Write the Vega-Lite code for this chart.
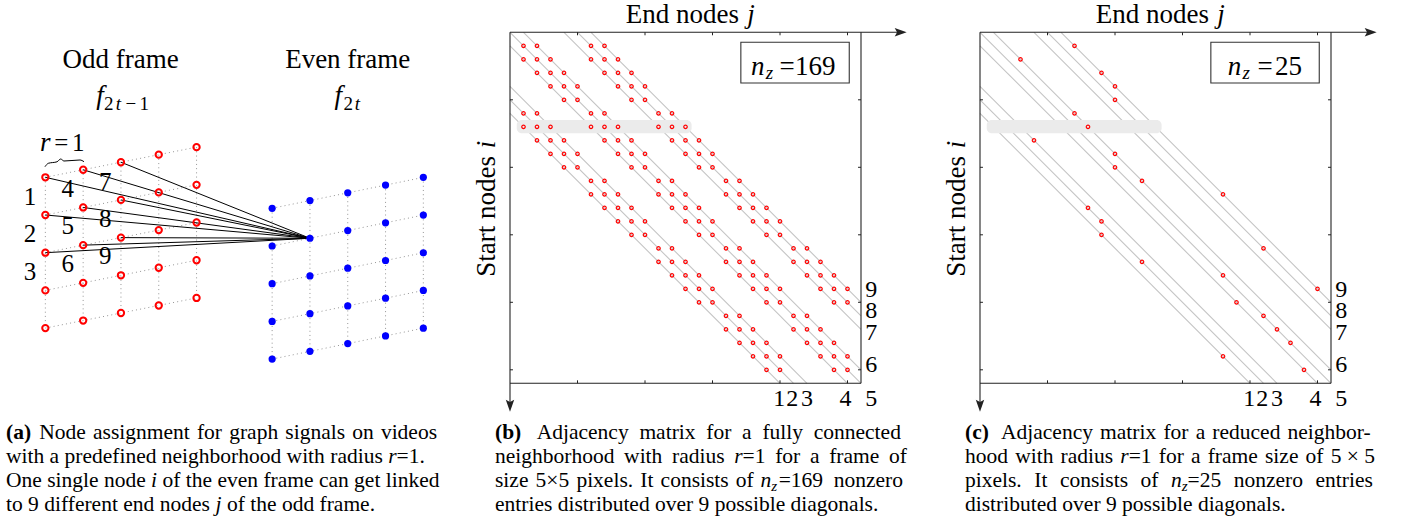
{
"$schema": "https://vega.github.io/schema/vega-lite/v6.json",
"padding": 0,
"spacing": 0,
"bounds": "flush",
"background": "white",
"config": {"view": {"stroke": null}, "concat": {"spacing": 0}, "text": {"font": "Liberation Serif", "color": "#000"}},
"datasets": {
"aGrid": [
{"u":1,"v":1,"u2":5,"v2":0.2},{"u":1,"v":2,"u2":5,"v2":1.2},{"u":1,"v":3,"u2":5,"v2":2.2},{"u":1,"v":4,"u2":5,"v2":3.2},{"u":1,"v":5,"u2":5,"v2":4.2},
{"u":1,"v":1,"u2":1,"v2":5},{"u":2,"v":0.8,"u2":2,"v2":4.8},{"u":3,"v":0.6,"u2":3,"v2":4.6},{"u":4,"v":0.4,"u2":4,"v2":4.4},{"u":5,"v":0.2,"u2":5,"v2":4.2},
{"u":7,"v":1.822,"u2":11,"v2":1.002},{"u":7,"v":2.822,"u2":11,"v2":2.002},{"u":7,"v":3.822,"u2":11,"v2":3.002},{"u":7,"v":4.822,"u2":11,"v2":4.002},{"u":7,"v":5.822,"u2":11,"v2":5.002},
{"u":7,"v":1.822,"u2":7,"v2":5.822},{"u":8,"v":1.617,"u2":8,"v2":5.617},{"u":9,"v":1.412,"u2":9,"v2":5.412},{"u":10,"v":1.207,"u2":10,"v2":5.207},{"u":11,"v":1.002,"u2":11,"v2":5.002}
],
"aLinks": [
{"u":8,"v":2.617,"u2":1,"v2":1},{"u":8,"v":2.617,"u2":1,"v2":2},{"u":8,"v":2.617,"u2":1,"v2":3},
{"u":8,"v":2.617,"u2":2,"v2":0.8},{"u":8,"v":2.617,"u2":2,"v2":1.8},{"u":8,"v":2.617,"u2":2,"v2":2.8},
{"u":8,"v":2.617,"u2":3,"v2":0.6},{"u":8,"v":2.617,"u2":3,"v2":1.6},{"u":8,"v":2.617,"u2":3,"v2":2.6}
],
"aRed": [
{"u":1,"v":1},{"u":1,"v":2},{"u":1,"v":3},{"u":1,"v":4},{"u":1,"v":5},
{"u":2,"v":0.8},{"u":2,"v":1.8},{"u":2,"v":2.8},{"u":2,"v":3.8},{"u":2,"v":4.8},
{"u":3,"v":0.6},{"u":3,"v":1.6},{"u":3,"v":2.6},{"u":3,"v":3.6},{"u":3,"v":4.6},
{"u":4,"v":0.4},{"u":4,"v":1.4},{"u":4,"v":2.4},{"u":4,"v":3.4},{"u":4,"v":4.4},
{"u":5,"v":0.2},{"u":5,"v":1.2},{"u":5,"v":2.2},{"u":5,"v":3.2},{"u":5,"v":4.2}
],
"aBlue": [
{"u":7,"v":1.822},{"u":7,"v":2.822},{"u":7,"v":3.822},{"u":7,"v":4.822},{"u":7,"v":5.822},
{"u":8,"v":1.617},{"u":8,"v":2.617},{"u":8,"v":3.617},{"u":8,"v":4.617},{"u":8,"v":5.617},
{"u":9,"v":1.412},{"u":9,"v":2.412},{"u":9,"v":3.412},{"u":9,"v":4.412},{"u":9,"v":5.412},
{"u":10,"v":1.207},{"u":10,"v":2.207},{"u":10,"v":3.207},{"u":10,"v":4.207},{"u":10,"v":5.207},
{"u":11,"v":1.002},{"u":11,"v":2.002},{"u":11,"v":3.002},{"u":11,"v":4.002},{"u":11,"v":5.002}
],
"aBrace": [
{"u":0.99,"v":0.719},{"u":1.078,"v":0.629},{"u":1.308,"v":0.589},{"u":1.406,"v":0.515},{"u":1.493,"v":0.568},{"u":1.916,"v":0.541},{"u":2.022,"v":0.586}
],
"mDiag": [
{"j":0,"i":6,"j2":20,"i2":26},{"j":0,"i":5,"j2":21,"i2":26},{"j":0,"i":4,"j2":22,"i2":26},{"j":0,"i":1,"j2":25,"i2":26},{"j":0,"i":0,"j2":26,"i2":26},
{"j":1,"i":0,"j2":26,"i2":25},{"j":4,"i":0,"j2":26,"i2":22},{"j":5,"i":0,"j2":26,"i2":21},{"j":6,"i":0,"j2":26,"i2":20}
],
"mBand": [{"j":0.5,"i":6.5,"j2":13.45,"i2":7.48}],
"mTicks": [
{"j":5,"i":0,"j2":5,"i2":0.22},{"j":10,"i":0,"j2":10,"i2":0.22},{"j":15,"i":0,"j2":15,"i2":0.22},{"j":20,"i":0,"j2":20,"i2":0.22},{"j":25,"i":0,"j2":25,"i2":0.22},
{"j":5,"i":26,"j2":5,"i2":25.78},{"j":10,"i":26,"j2":10,"i2":25.78},{"j":15,"i":26,"j2":15,"i2":25.78},{"j":20,"i":26,"j2":20,"i2":25.78},{"j":25,"i":26,"j2":25,"i2":25.78},
{"j":0,"i":5,"j2":0.22,"i2":5},{"j":0,"i":10,"j2":0.22,"i2":10},{"j":0,"i":15,"j2":0.22,"i2":15},{"j":0,"i":20,"j2":0.22,"i2":20},{"j":0,"i":25,"j2":0.22,"i2":25},
{"j":26,"i":5,"j2":25.78,"i2":5},{"j":26,"i":10,"j2":25.78,"i2":10},{"j":26,"i":15,"j2":25.78,"i2":15},{"j":26,"i":20,"j2":25.78,"i2":20},{"j":26,"i":25,"j2":25.78,"i2":25}
],
"mFrame": [
{"j":0,"i":0,"j2":28.95,"i2":0},{"j":0,"i":0,"j2":0,"i2":27.7},{"j":26,"i":0,"j2":26,"i2":26},{"j":0,"i":26,"j2":26,"i2":26}
],
"mBox": [{"j":17.1,"i":0.74,"j2":25.13,"i2":3.76}],
"mLab": [
{"t":"1","j":19.95,"i":27.68},{"t":"2","j":20.9,"i":27.68},{"t":"3","j":22.0,"i":27.68},{"t":"4","j":24.85,"i":27.68},{"t":"5","j":26.75,"i":27.68},
{"t":"6","j":26.75,"i":25.14},{"t":"7","j":26.75,"i":22.8},{"t":"8","j":26.75,"i":21.19},{"t":"9","j":26.75,"i":19.58}
],
"nzFull": [
{"i":1,"j":1},{"i":1,"j":2},{"i":1,"j":6},{"i":1,"j":7},
{"i":2,"j":1},{"i":2,"j":2},{"i":2,"j":3},{"i":2,"j":6},{"i":2,"j":7},{"i":2,"j":8},
{"i":3,"j":2},{"i":3,"j":3},{"i":3,"j":4},{"i":3,"j":7},{"i":3,"j":8},{"i":3,"j":9},
{"i":4,"j":3},{"i":4,"j":4},{"i":4,"j":5},{"i":4,"j":8},{"i":4,"j":9},{"i":4,"j":10},
{"i":5,"j":4},{"i":5,"j":5},{"i":5,"j":9},{"i":5,"j":10},
{"i":6,"j":1},{"i":6,"j":2},{"i":6,"j":6},{"i":6,"j":7},{"i":6,"j":11},{"i":6,"j":12},
{"i":7,"j":1},{"i":7,"j":2},{"i":7,"j":3},{"i":7,"j":6},{"i":7,"j":7},{"i":7,"j":8},{"i":7,"j":11},{"i":7,"j":12},{"i":7,"j":13},
{"i":8,"j":2},{"i":8,"j":3},{"i":8,"j":4},{"i":8,"j":7},{"i":8,"j":8},{"i":8,"j":9},{"i":8,"j":12},{"i":8,"j":13},{"i":8,"j":14},
{"i":9,"j":3},{"i":9,"j":4},{"i":9,"j":5},{"i":9,"j":8},{"i":9,"j":9},{"i":9,"j":10},{"i":9,"j":13},{"i":9,"j":14},{"i":9,"j":15},
{"i":10,"j":4},{"i":10,"j":5},{"i":10,"j":9},{"i":10,"j":10},{"i":10,"j":14},{"i":10,"j":15},
{"i":11,"j":6},{"i":11,"j":7},{"i":11,"j":11},{"i":11,"j":12},{"i":11,"j":16},{"i":11,"j":17},
{"i":12,"j":6},{"i":12,"j":7},{"i":12,"j":8},{"i":12,"j":11},{"i":12,"j":12},{"i":12,"j":13},{"i":12,"j":16},{"i":12,"j":17},{"i":12,"j":18},
{"i":13,"j":7},{"i":13,"j":8},{"i":13,"j":9},{"i":13,"j":12},{"i":13,"j":13},{"i":13,"j":14},{"i":13,"j":17},{"i":13,"j":18},{"i":13,"j":19},
{"i":14,"j":8},{"i":14,"j":9},{"i":14,"j":10},{"i":14,"j":13},{"i":14,"j":14},{"i":14,"j":15},{"i":14,"j":18},{"i":14,"j":19},{"i":14,"j":20},
{"i":15,"j":9},{"i":15,"j":10},{"i":15,"j":14},{"i":15,"j":15},{"i":15,"j":19},{"i":15,"j":20},
{"i":16,"j":11},{"i":16,"j":12},{"i":16,"j":16},{"i":16,"j":17},{"i":16,"j":21},{"i":16,"j":22},
{"i":17,"j":11},{"i":17,"j":12},{"i":17,"j":13},{"i":17,"j":16},{"i":17,"j":17},{"i":17,"j":18},{"i":17,"j":21},{"i":17,"j":22},{"i":17,"j":23},
{"i":18,"j":12},{"i":18,"j":13},{"i":18,"j":14},{"i":18,"j":17},{"i":18,"j":18},{"i":18,"j":19},{"i":18,"j":22},{"i":18,"j":23},{"i":18,"j":24},
{"i":19,"j":13},{"i":19,"j":14},{"i":19,"j":15},{"i":19,"j":18},{"i":19,"j":19},{"i":19,"j":20},{"i":19,"j":23},{"i":19,"j":24},{"i":19,"j":25},
{"i":20,"j":14},{"i":20,"j":15},{"i":20,"j":19},{"i":20,"j":20},{"i":20,"j":24},{"i":20,"j":25},
{"i":21,"j":16},{"i":21,"j":17},{"i":21,"j":21},{"i":21,"j":22},
{"i":22,"j":16},{"i":22,"j":17},{"i":22,"j":18},{"i":22,"j":21},{"i":22,"j":22},{"i":22,"j":23},
{"i":23,"j":17},{"i":23,"j":18},{"i":23,"j":19},{"i":23,"j":22},{"i":23,"j":23},{"i":23,"j":24},
{"i":24,"j":18},{"i":24,"j":19},{"i":24,"j":20},{"i":24,"j":23},{"i":24,"j":24},{"i":24,"j":25},
{"i":25,"j":19},{"i":25,"j":20},{"i":25,"j":24},{"i":25,"j":25}
],
"nzRed": [
{"i":1,"j":7},{"i":2,"j":3},{"i":3,"j":9},{"i":4,"j":10},{"i":5,"j":10},{"i":6,"j":7},{"i":7,"j":8},{"i":8,"j":4},{"i":9,"j":10},{"i":10,"j":10},
{"i":11,"j":12},{"i":12,"j":18},{"i":13,"j":8},{"i":14,"j":9},{"i":15,"j":9},{"i":16,"j":21},{"i":17,"j":12},{"i":18,"j":18},{"i":19,"j":25},{"i":20,"j":19},
{"i":21,"j":21},{"i":22,"j":22},{"i":23,"j":23},{"i":24,"j":18},{"i":25,"j":24}
]
},
"hconcat": [
{
"width": 460, "height": 519,
"encoding": {
"x": {"field": "u", "type": "quantitative", "scale": {"domain": [-0.2, 11.97], "nice": false, "zero": false}, "axis": null},
"y": {"field": "v", "type": "quantitative", "scale": {"domain": [-3.703, 10.064], "reverse": true, "nice": false, "zero": false}, "axis": null}
},
"layer": [
{"data": {"name": "aGrid"}, "mark": {"type": "rule", "stroke": "#8a8a8a", "strokeWidth": 0.9, "strokeDash": [1, 3.2]}, "encoding": {"x2": {"field": "u2"}, "y2": {"field": "v2"}}},
{"data": {"name": "aLinks"}, "mark": {"type": "rule", "stroke": "#000", "strokeWidth": 1}, "encoding": {"x2": {"field": "u2"}, "y2": {"field": "v2"}}},
{"data": {"name": "aRed"}, "mark": {"type": "point", "shape": "circle", "filled": false, "stroke": "#ff0000", "strokeWidth": 2, "size": 40, "opacity": 1}},
{"data": {"name": "aBlue"}, "mark": {"type": "point", "shape": "circle", "filled": true, "fill": "#0000ff", "strokeWidth": 0, "size": 52, "opacity": 1}},
{"data": {"name": "aBrace"}, "mark": {"type": "line", "stroke": "#000", "strokeWidth": 1, "interpolate": "monotone"}, "encoding": {}},
{"data": {"values": [{"t": "Odd frame", "u": 2.993, "v": -1.891}, {"t": "Even frame", "u": 9.0, "v": -1.891}]}, "mark": {"type": "text", "fontSize": 27, "align": "center", "baseline": "alphabetic"}, "encoding": {"text": {"field": "t"}}},
{"data": {"values": [{"t": "f", "u": 2.446, "v": -0.944}, {"t": "f", "u": 8.75, "v": -0.944}, {"t": "r", "u": 1.0, "v": 0.294}]}, "mark": {"type": "text", "fontSize": 27, "fontStyle": "italic", "align": "center", "baseline": "alphabetic"}, "encoding": {"text": {"field": "t"}}},
{"data": {"values": [{"t": "2", "u": 2.675, "v": -0.785}, {"t": "−", "u": 3.26, "v": -0.785}, {"t": "1", "u": 3.614, "v": -0.785}, {"t": "2", "u": 9.014, "v": -0.785}]}, "mark": {"type": "text", "fontSize": 19, "align": "center", "baseline": "alphabetic"}, "encoding": {"text": {"field": "t"}}},
{"data": {"values": [{"t": "t", "u": 2.93, "v": -0.785}, {"t": "t", "u": 9.258, "v": -0.785}]}, "mark": {"type": "text", "fontSize": 19, "fontStyle": "italic", "align": "center", "baseline": "alphabetic"}, "encoding": {"text": {"field": "t"}}},
{"data": {"values": [
{"t": "=", "u": 1.422, "v": 0.294}, {"t": "1", "u": 1.871, "v": 0.294},
{"t": "1", "u": 0.594, "v": 1.735}, {"t": "2", "u": 0.594, "v": 2.724}, {"t": "3", "u": 0.594, "v": 3.727},
{"t": "4", "u": 1.591, "v": 1.515}, {"t": "5", "u": 1.591, "v": 2.501}, {"t": "6", "u": 1.591, "v": 3.514},
{"t": "7", "u": 2.586, "v": 1.337}, {"t": "8", "u": 2.586, "v": 2.326}, {"t": "9", "u": 2.586, "v": 3.313}
]}, "mark": {"type": "text", "fontSize": 25, "align": "center", "baseline": "alphabetic"}, "encoding": {"text": {"field": "t"}}},
{"data": {"values": [{"t": "(a)", "u": -0.041, "v": 7.95}]}, "mark": {"type": "text", "fontSize": 21.5, "fontWeight": "bold", "align": "left", "baseline": "alphabetic"}, "encoding": {"text": {"field": "t"}}},
{"data": {"values": [
{"t": "Node\u200a assignment\u200a for\u200a graph\u200a signals\u200a on\u200a videos", "u": 0.84, "v": 7.95},
{"t": "with a predefined neighborhood with radius", "u": -0.041, "v": 8.586},
{"t": "=1.", "u": 10.292, "v": 8.586},
{"t": "One single node", "u": -0.041, "v": 9.223},
{"t": "of the even frame can get linked", "u": 4.099, "v": 9.223},
{"t": "to 9 different end nodes", "u": -0.041, "v": 9.851},
{"t": "of the odd frame.", "u": 5.805, "v": 9.851}
]}, "mark": {"type": "text", "fontSize": 21.5, "align": "left", "baseline": "alphabetic"}, "encoding": {"text": {"field": "t"}}},
{"data": {"values": [
{"t": "r", "u": 10.07, "v": 8.586},
{"t": "i", "u": 3.797, "v": 9.223},
{"t": "j", "u": 5.504, "v": 9.851}
]}, "mark": {"type": "text", "fontSize": 21.5, "fontStyle": "italic", "align": "left", "baseline": "alphabetic"}, "encoding": {"text": {"field": "t"}}}
]
},
{
"width": 470, "height": 519,
"encoding": {
"x": {"field": "j", "type": "quantitative", "scale": {"domain": [-3.7037, 31.1111], "nice": false, "zero": false}, "axis": null},
"y": {"field": "i", "type": "quantitative", "scale": {"domain": [-2.3926, 36.0519], "reverse": true, "nice": false, "zero": false}, "axis": null}
},
"layer": [
{"data": {"name": "mDiag"}, "mark": {"type": "rule", "stroke": "#c4c4c4", "strokeWidth": 1.1}, "encoding": {"x2": {"field": "j2"}, "y2": {"field": "i2"}}},
{"data": {"name": "mBand"}, "mark": {"type": "rect", "fill": "#ebebeb", "cornerRadius": 5}, "encoding": {"x2": {"field": "j2"}, "y2": {"field": "i2"}}},
{"data": {"name": "nzFull"}, "mark": {"type": "point", "shape": "circle", "filled": false, "stroke": "#ff0000", "strokeWidth": 1.2, "size": 12, "opacity": 1}},
{"data": {"name": "mTicks"}, "mark": {"type": "rule", "stroke": "#222", "strokeWidth": 1}, "encoding": {"x2": {"field": "j2"}, "y2": {"field": "i2"}}},
{"data": {"name": "mFrame"}, "mark": {"type": "rule", "stroke": "#222", "strokeWidth": 1.1}, "encoding": {"x2": {"field": "j2"}, "y2": {"field": "i2"}}},
{"data": {"values": [{"j": 28.94, "i": 0}]}, "mark": {"type": "point", "shape": "M1,0L-1,0.7L-0.6,0L-1,-0.7Z", "filled": true, "fill": "#222", "strokeWidth": 0, "size": 144, "opacity": 1}},
{"data": {"values": [{"j": 0, "i": 27.66}]}, "mark": {"type": "point", "shape": "M1,0L-1,0.7L-0.6,0L-1,-0.7Z", "filled": true, "fill": "#222", "strokeWidth": 0, "size": 144, "opacity": 1, "angle": 90}},
{"data": {"name": "mBox"}, "mark": {"type": "rect", "fill": "white", "stroke": "#333", "strokeWidth": 1.1}, "encoding": {"x2": {"field": "j2"}, "y2": {"field": "i2"}}},
{"data": {"values": [{"t": "n", "j": 17.85, "i": 3.16}]}, "mark": {"type": "text", "fontSize": 27, "fontStyle": "italic", "align": "left", "baseline": "alphabetic"}, "encoding": {"text": {"field": "t"}}},
{"data": {"values": [{"t": "z", "j": 18.95, "i": 3.48}]}, "mark": {"type": "text", "fontSize": 19, "fontStyle": "italic", "align": "left", "baseline": "alphabetic"}, "encoding": {"text": {"field": "t"}}},
{"data": {"values": [{"t": "=", "j": 20.52, "i": 3.16}]}, "mark": {"type": "text", "fontSize": 27, "align": "center", "baseline": "alphabetic"}, "encoding": {"text": {"field": "t"}}},
{"data": {"values": [{"t": "169", "j": 21.11, "i": 3.16}]}, "mark": {"type": "text", "fontSize": 27, "align": "left", "baseline": "alphabetic"}, "encoding": {"text": {"field": "t"}}},
{"data": {"name": "mLab"}, "mark": {"type": "text", "fontSize": 24, "align": "center", "baseline": "alphabetic"}, "encoding": {"text": {"field": "t"}}},
{"data": {"values": [{"t": "End nodes", "j": 8.57, "i": -0.71}]}, "mark": {"type": "text", "fontSize": 27, "align": "left", "baseline": "alphabetic"}, "encoding": {"text": {"field": "t"}}},
{"data": {"values": [{"t": "j", "j": 17.58, "i": -0.71}]}, "mark": {"type": "text", "fontSize": 27, "fontStyle": "italic", "align": "left", "baseline": "alphabetic"}, "encoding": {"text": {"field": "t"}}},
{"data": {"values": [{"t": "Start nodes", "j": -1.11, "i": 18.1}]}, "mark": {"type": "text", "fontSize": 27, "angle": 270, "align": "left", "baseline": "alphabetic"}, "encoding": {"text": {"field": "t"}}},
{"data": {"values": [{"t": "i", "j": -1.11, "i": 8.59}]}, "mark": {"type": "text", "fontSize": 27, "fontStyle": "italic", "angle": 270, "align": "left", "baseline": "alphabetic"}, "encoding": {"text": {"field": "t"}}},
{"data": {"values": [{"t": "(b)", "j": -1.111, "i": 30.15}]}, "mark": {"type": "text", "fontSize": 21.5, "fontWeight": "bold", "align": "left", "baseline": "alphabetic"}, "encoding": {"text": {"field": "t"}}},
{"data": {"values": [
{"t": "Adjacency\u2005 matrix\u2005 for\u2005 a\u2005 fully\u2005 connected", "j": 1.98, "i": 30.15},
{"t": "neighborhood\u2009 with\u2009 radius", "j": -1.111, "i": 31.93},
{"t": "=1\u2009 for\u2009 a\u2009 frame\u2009 of", "j": 17.23, "i": 31.93},
{"t": "size\u200a 5×5\u200a pixels.\u200a It\u200a consists\u200a of", "j": -1.111, "i": 33.7},
{"t": "=169\u2005 nonzero", "j": 19.9, "i": 33.7},
{"t": "entries distributed over 9 possible diagonals.", "j": -1.111, "i": 35.46}
]}, "mark": {"type": "text", "fontSize": 21.5, "align": "left", "baseline": "alphabetic"}, "encoding": {"text": {"field": "t"}}},
{"data": {"values": [{"t": "r", "j": 16.607, "i": 31.93}, {"t": "n", "j": 18.55, "i": 33.7}]}, "mark": {"type": "text", "fontSize": 21.5, "fontStyle": "italic", "align": "left", "baseline": "alphabetic"}, "encoding": {"text": {"field": "t"}}},
{"data": {"values": [{"t": "z", "j": 19.35, "i": 33.98}]}, "mark": {"type": "text", "fontSize": 15, "fontStyle": "italic", "align": "left", "baseline": "alphabetic"}, "encoding": {"text": {"field": "t"}}}
]
},
{
"width": 474, "height": 519,
"encoding": {
"x": {"field": "j", "type": "quantitative", "scale": {"domain": [-3.7037, 31.4074], "nice": false, "zero": false}, "axis": null},
"y": {"field": "i", "type": "quantitative", "scale": {"domain": [-2.3926, 36.0519], "reverse": true, "nice": false, "zero": false}, "axis": null}
},
"layer": [
{"data": {"name": "mDiag"}, "mark": {"type": "rule", "stroke": "#c4c4c4", "strokeWidth": 1.1}, "encoding": {"x2": {"field": "j2"}, "y2": {"field": "i2"}}},
{"data": {"name": "mBand"}, "mark": {"type": "rect", "fill": "#ebebeb", "cornerRadius": 5}, "encoding": {"x2": {"field": "j2"}, "y2": {"field": "i2"}}},
{"data": {"name": "nzRed"}, "mark": {"type": "point", "shape": "circle", "filled": false, "stroke": "#ff0000", "strokeWidth": 1.2, "size": 12, "opacity": 1}},
{"data": {"name": "mTicks"}, "mark": {"type": "rule", "stroke": "#222", "strokeWidth": 1}, "encoding": {"x2": {"field": "j2"}, "y2": {"field": "i2"}}},
{"data": {"name": "mFrame"}, "mark": {"type": "rule", "stroke": "#222", "strokeWidth": 1.1}, "encoding": {"x2": {"field": "j2"}, "y2": {"field": "i2"}}},
{"data": {"values": [{"j": 28.94, "i": 0}]}, "mark": {"type": "point", "shape": "M1,0L-1,0.7L-0.6,0L-1,-0.7Z", "filled": true, "fill": "#222", "strokeWidth": 0, "size": 144, "opacity": 1}},
{"data": {"values": [{"j": 0, "i": 27.66}]}, "mark": {"type": "point", "shape": "M1,0L-1,0.7L-0.6,0L-1,-0.7Z", "filled": true, "fill": "#222", "strokeWidth": 0, "size": 144, "opacity": 1, "angle": 90}},
{"data": {"name": "mBox"}, "mark": {"type": "rect", "fill": "white", "stroke": "#333", "strokeWidth": 1.1}, "encoding": {"x2": {"field": "j2"}, "y2": {"field": "i2"}}},
{"data": {"values": [{"t": "n", "j": 18.35, "i": 3.16}]}, "mark": {"type": "text", "fontSize": 27, "fontStyle": "italic", "align": "left", "baseline": "alphabetic"}, "encoding": {"text": {"field": "t"}}},
{"data": {"values": [{"t": "z", "j": 19.45, "i": 3.48}]}, "mark": {"type": "text", "fontSize": 19, "fontStyle": "italic", "align": "left", "baseline": "alphabetic"}, "encoding": {"text": {"field": "t"}}},
{"data": {"values": [{"t": "=", "j": 21.11, "i": 3.16}]}, "mark": {"type": "text", "fontSize": 27, "align": "center", "baseline": "alphabetic"}, "encoding": {"text": {"field": "t"}}},
{"data": {"values": [{"t": "25", "j": 21.85, "i": 3.16}]}, "mark": {"type": "text", "fontSize": 27, "align": "left", "baseline": "alphabetic"}, "encoding": {"text": {"field": "t"}}},
{"data": {"name": "mLab"}, "mark": {"type": "text", "fontSize": 24, "align": "center", "baseline": "alphabetic"}, "encoding": {"text": {"field": "t"}}},
{"data": {"values": [{"t": "End nodes", "j": 8.57, "i": -0.71}]}, "mark": {"type": "text", "fontSize": 27, "align": "left", "baseline": "alphabetic"}, "encoding": {"text": {"field": "t"}}},
{"data": {"values": [{"t": "j", "j": 17.58, "i": -0.71}]}, "mark": {"type": "text", "fontSize": 27, "fontStyle": "italic", "align": "left", "baseline": "alphabetic"}, "encoding": {"text": {"field": "t"}}},
{"data": {"values": [{"t": "Start nodes", "j": -1.11, "i": 18.1}]}, "mark": {"type": "text", "fontSize": 27, "angle": 270, "align": "left", "baseline": "alphabetic"}, "encoding": {"text": {"field": "t"}}},
{"data": {"values": [{"t": "i", "j": -1.11, "i": 8.59}]}, "mark": {"type": "text", "fontSize": 27, "fontStyle": "italic", "angle": 270, "align": "left", "baseline": "alphabetic"}, "encoding": {"text": {"field": "t"}}},
{"data": {"values": [{"t": "(c)", "j": -1.111, "i": 30.15}]}, "mark": {"type": "text", "fontSize": 21.5, "fontWeight": "bold", "align": "left", "baseline": "alphabetic"}, "encoding": {"text": {"field": "t"}}},
{"data": {"values": [
{"t": "Adjacency\u200a matrix\u200a for\u200a a\u200a reduced\u200a neighbor-", "j": 1.556, "i": 30.15},
{"t": "hood\u200a with\u200a radius", "j": -1.111, "i": 31.93},
{"t": "=1\u200a for\u200a a\u200a frame\u200a size\u200a of\u200a 5 × 5", "j": 11.015, "i": 31.93},
{"t": "pixels.\u2005\u200a It\u2005\u200a consists\u2005\u200a of", "j": -1.111, "i": 33.7},
{"t": "=25\u2005\u200a nonzero\u2005\u200a entries", "j": 15.378, "i": 33.7},
{"t": "distributed over 9 possible diagonals.", "j": -1.111, "i": 35.46}
]}, "mark": {"type": "text", "fontSize": 21.5, "align": "left", "baseline": "alphabetic"}, "encoding": {"text": {"field": "t"}}},
{"data": {"values": [{"t": "r", "j": 10.393, "i": 31.93}, {"t": "n", "j": 14.148, "i": 33.7}]}, "mark": {"type": "text", "fontSize": 21.5, "fontStyle": "italic", "align": "left", "baseline": "alphabetic"}, "encoding": {"text": {"field": "t"}}},
{"data": {"values": [{"t": "z", "j": 14.948, "i": 33.98}]}, "mark": {"type": "text", "fontSize": 15, "fontStyle": "italic", "align": "left", "baseline": "alphabetic"}, "encoding": {"text": {"field": "t"}}}
]
}
]
}
